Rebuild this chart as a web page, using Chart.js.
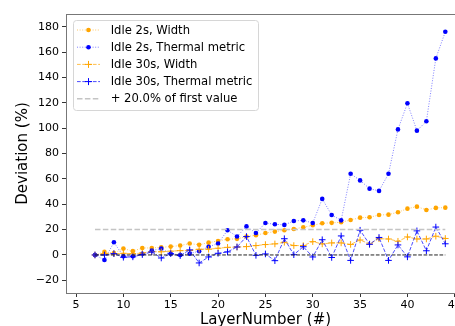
<!DOCTYPE html>
<html>
<head>
<meta charset="utf-8">
<script src="https://cdn.jsdelivr.net/npm/chart.js@4"></script>
<style>
  html, body { margin: 0; padding: 0; background: #fff; overflow: hidden; }
  #wrap { width: 500px; height: 326px; }
</style>
</head>
<body>
<div id="wrap"><canvas id="chart" width="500" height="326"></canvas></div>
<script>
// Layer numbers on the x axis
const layers = [7, 8, 9, 10, 11, 12, 13, 14, 15, 16, 17, 18, 19, 20, 21, 22, 23, 24, 25,
  26, 27, 28, 29, 30, 31, 32, 33, 34, 35, 36, 37, 38, 39, 40, 41, 42, 43, 44];

// Deviation (%) per layer
const idle2Width = [0, 2.4, 1.5, 5, 3, 5.5, 5.5, 6, 6.6, 7.4, 9, 8, 9.7, 11, 12.4, 12.7, 14.5, 15.5, 17.3,
  18.4, 19.5, 20.5, 21.8, 23.4, 25, 25.3, 25.8, 27.6, 29.4, 29.7, 31.5, 31.8, 33.7, 36.5, 38.1, 35.5, 37.1, 37.3];
const idle2Thermal = [0, -4, 10, -1, -1, 1, 3.5, 5, 1, 0, 1, 3, 6.5, 9, 19.5, 14.5, 22.5, 17.3, 25.2,
  24.2, 23.7, 26.8, 27.3, 25.2, 44.2, 31.5, 27.3, 64, 58.8, 52.3, 50.5, 64, 99, 119.6, 98, 105.4, 155, 176];
const idle30Width = [0, 1, 1, 1.3, 1, 1.5, 2.6, 2.5, 3, 3.4, 3.5, 4.5, 4.5, 5.3, 6, 6.2, 6.6, 7.4, 8.2,
  8.7, 10, 7.4, 7.4, 10.5, 8.7, 9.5, 9.5, 8.3, 11.8, 8.7, 12.8, 12.6, 10.8, 14.2, 12.6, 12.6, 14.8, 13];
const idle30Thermal = [0, 0, 1, -1.8, -1.5, 0.3, 2.4, -2.4, 1, -0.5, 4, -6.3, -1.6, 1.3, 2.4, 6.3, 14.5, -0.3, 0.8,
  -4.5, 12.8, 0.2, 6.5, -1.6, 12, -2, 15, -4.3, 19.5, 8.4, 13.8, -4.3, 7.9, -1.5, 19, 3.3, 22, 8.8];

// reference lines
const refLayers = [7, 44];
const threshold = [20, 20];
const zeroLine = [0, 0];

const xTicks = [5, 10, 15, 20, 25, 30, 35, 40, 45];
const yTicks = [-20, 0, 20, 40, 60, 80, 100, 120, 140, 160, 180];

const FONT = '"DejaVu Sans", "Liberation Sans", sans-serif';
const ORANGE = '#ffa500';
const BLUE = '#0000ff';

const pts = (xs, ys) => xs.map((x, i) => ({ x, y: ys[i] }));

const series = [
  { label: 'Idle 2s, Width', data: pts(layers, idle2Width), borderColor: 'rgba(255,165,0,0.6)', borderDash: [1, 1.6],
    pointStyle: 'circle', pointRadius: 2.3, pointBackgroundColor: ORANGE, pointBorderColor: ORANGE, pointBorderWidth: 0 },
  { label: 'Idle 2s, Thermal metric', data: pts(layers, idle2Thermal), borderColor: 'rgba(0,0,255,0.5)', borderDash: [1, 1.6],
    pointStyle: 'circle', pointRadius: 2.3, pointBackgroundColor: BLUE, pointBorderColor: BLUE, pointBorderWidth: 0 },
  { label: 'Idle 30s, Width', data: pts(layers, idle30Width), borderColor: 'rgba(255,165,0,0.7)', borderDash: [3.7, 1.6],
    pointStyle: 'cross', pointRadius: 3.3, pointBackgroundColor: ORANGE, pointBorderColor: ORANGE, pointBorderWidth: 1 },
  { label: 'Idle 30s, Thermal metric', data: pts(layers, idle30Thermal), borderColor: 'rgba(0,0,255,0.7)', borderDash: [3.7, 1.6],
    pointStyle: 'cross', pointRadius: 3.3, pointBackgroundColor: BLUE, pointBorderColor: BLUE, pointBorderWidth: 1 },
  { label: '+ 20.0% of first value', data: pts(refLayers, threshold), borderColor: '#c4c4c4', borderDash: [5.5, 2.4],
    borderWidth: 1.5, pointRadius: 0 },
  { label: '', data: pts(refLayers, zeroLine), borderColor: '#222', borderDash: [3.7, 1.6],
    pointRadius: 0 },
];

const datasets = series.map((s, i) => Object.assign({
  borderWidth: 1,
  tension: 0,
  fill: false,
  order: series.length - i,
}, s));

// matplotlib-like frame, legend and axis titles
const decorations = {
  id: 'decorations',
  afterDraw(chart) {
    const { ctx, chartArea: a } = chart;
    ctx.save();
    ctx.strokeStyle = '#777';
    ctx.lineWidth = 1;
    ctx.strokeRect(a.left + 0.5, a.top + 0.5, a.right - a.left, a.bottom - a.top);

    // legend box
    const bx = 73, by = 20, bw = 185, bh = 90, r = 3;
    ctx.fillStyle = 'rgba(255,255,255,0.85)';
    ctx.strokeStyle = '#d6d6d6';
    ctx.beginPath();
    ctx.roundRect(bx + 0.5, by + 0.5, bw, bh, r);
    ctx.fill();
    ctx.stroke();

    ctx.font = '11.6px ' + FONT;
    ctx.textBaseline = 'middle';
    ctx.textAlign = 'left';
    series.slice(0, 5).forEach((s, i) => {
      const y = 30 + i * 17.2;
      ctx.strokeStyle = s.borderColor;
      ctx.lineWidth = s.borderWidth || 1;
      ctx.setLineDash(s.borderDash);
      ctx.beginPath();
      ctx.moveTo(77, y);
      ctx.lineTo(100, y);
      ctx.stroke();
      ctx.setLineDash([]);
      if (s.pointStyle === 'circle') {
        ctx.fillStyle = s.pointBackgroundColor;
        ctx.beginPath();
        ctx.arc(88.5, y, 2.3, 0, Math.PI * 2);
        ctx.fill();
      } else if (s.pointStyle === 'cross') {
        ctx.strokeStyle = s.pointBorderColor;
        ctx.lineWidth = 1;
        ctx.beginPath();
        ctx.moveTo(85, y); ctx.lineTo(92, y);
        ctx.moveTo(88.5, y - 3.5); ctx.lineTo(88.5, y + 3.5);
        ctx.stroke();
      }
      ctx.fillStyle = '#000';
      ctx.fillText(s.label, 110.7, y + 0.5);
    });

    // axis titles
    ctx.fillStyle = '#000';
    ctx.font = '15px ' + FONT;
    ctx.textAlign = 'center';
    ctx.textBaseline = 'alphabetic';
    ctx.fillText('LayerNumber (#)', 265.5, 324);
    ctx.translate(27, (a.top + a.bottom) / 2);
    ctx.rotate(-Math.PI / 2);
    ctx.fillText('Deviation (%)', 0, 0);
    ctx.restore();
  }
};

new Chart(document.getElementById('chart'), {
  type: 'line',
  data: { datasets },
  options: {
    responsive: false,
    animation: false,
    layout: { padding: { left: 0, top: 14, right: 26, bottom: 0 } },
    plugins: { legend: { display: false }, tooltip: { enabled: false } },
    scales: {
      x: {
        type: 'linear',
        min: 3.94,
        max: 47.03,
        afterBuildTicks: s => { s.ticks = xTicks.map(v => ({ value: v })); },
        afterFit: s => { s.height = 33; },
        grid: { drawOnChartArea: false, drawTicks: true, tickLength: 4, color: '#333' },
        border: { display: false },
        ticks: { color: '#000', font: { family: FONT, size: 11 }, padding: 2, maxRotation: 0 }
      },
      y: {
        min: -30,
        max: 190,
        afterBuildTicks: s => { s.ticks = yTicks.map(v => ({ value: v })); },
        afterFit: s => { s.width = 66; },
        grid: { drawOnChartArea: false, drawTicks: true, tickLength: 4, color: '#333' },
        border: { display: false },
        ticks: {
          color: '#000', font: { family: FONT, size: 11 }, padding: 3,
          callback: v => String(v).replace('-', '\u2212')
        }
      }
    }
  },
  plugins: [decorations]
});
</script>
</body>
</html>
